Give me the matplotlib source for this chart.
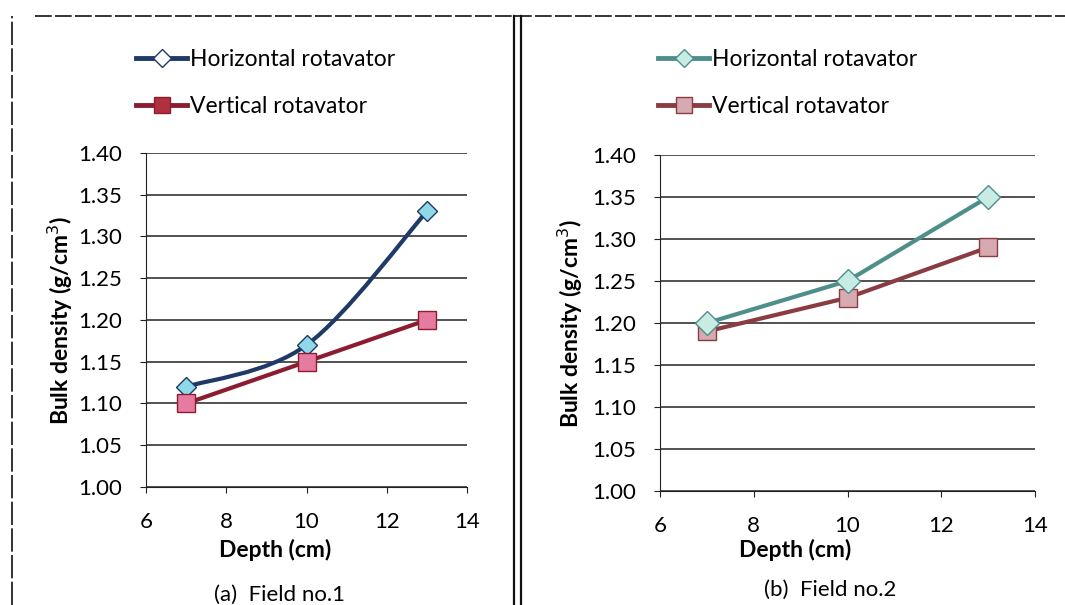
import matplotlib.pyplot as plt
from matplotlib.lines import Line2D
from matplotlib.path import Path
from matplotlib.patches import PathPatch
import numpy as np

depth = [7, 10, 13]

# Field no.1
field1_horizontal = [1.12, 1.17, 1.33]
field1_vertical = [1.10, 1.15, 1.20]

# Field no.2
field2_horizontal = [1.20, 1.25, 1.35]
field2_vertical = [1.19, 1.23, 1.29]

x_ticks = [6, 8, 10, 12, 14]
y_ticks = [1.00, 1.05, 1.10, 1.15, 1.20, 1.25, 1.30, 1.35, 1.40]

plt.rcParams["font.family"] = ["Lato", "DejaVu Sans"]


def smooth_path(xs, ys, tension=1 / 6):
    # Bezier path through the points, Catmull-Rom style
    pts = np.column_stack([xs, ys]).astype(float)
    verts = [pts[0]]
    codes = [Path.MOVETO]
    n = len(pts)
    for i in range(n - 1):
        p0 = pts[i - 1] if i > 0 else pts[i]
        p1 = pts[i]
        p2 = pts[i + 1]
        p3 = pts[i + 2] if i + 2 < n else pts[i + 1]
        c1 = p1 + (p2 - p0) * tension
        c2 = p2 - (p3 - p1) * tension
        verts += [c1, c2, p2]
        codes += [Path.CURVE4] * 3
    return Path(verts, codes)


def style_axes(ax, label_x):
    ax.set_xlim(6, 14)
    ax.set_ylim(1.0, 1.4)
    ax.set_xticks(x_ticks)
    ax.set_yticks(y_ticks)
    ax.set_yticklabels([f"{v:.2f}" for v in y_ticks])
    ax.grid(axis="y", color="#222222", linewidth=1.1)
    ax.set_axisbelow(True)
    for side in ["top", "right"]:
        ax.spines[side].set_visible(False)
    ax.spines["left"].set_color("#222222")
    ax.spines["bottom"].set_color("#222222")
    ax.tick_params(axis="both", direction="out", length=4, color="#222222",
                   labelsize=16)
    ax.tick_params(axis="x", pad=14)
    ax.tick_params(axis="y", pad=13)
    ax.set_ylabel("Bulk density (g/cm$^3$)", fontsize=16.5, fontweight="bold")
    ax.yaxis.set_label_coords(label_x, 0.5)


fig = plt.figure(figsize=(10.65, 6.05), dpi=100)

# left panel
ax1 = fig.add_axes([146 / 1065, 1 - 487 / 605, 321 / 1065, 334 / 605])
style_axes(ax1, -71 / 321)
h_line1, h_fill1 = "#1f3a66", "#8fd8e8"
v_line1, v_fill1 = "#8c1c30", "#e67aa0"
ax1.add_patch(PathPatch(smooth_path(depth, field1_horizontal), facecolor="none",
                        edgecolor=h_line1, linewidth=3, zorder=3))
ax1.plot(depth, field1_horizontal, linestyle="none", marker="D", markersize=10,
         markerfacecolor=h_fill1, markeredgecolor=h_line1, zorder=4)
ax1.plot(depth, field1_vertical, color=v_line1, linewidth=3, marker="s",
         markersize=13, markerfacecolor=v_fill1, markeredgecolor=v_line1, zorder=4)

# right panel
ax2 = fig.add_axes([660 / 1065, 1 - 491 / 605, 375 / 1065, 336 / 605])
style_axes(ax2, -75 / 375)
h_line2, h_fill2 = "#4e8f8c", "#c8ece4"
v_line2, v_fill2 = "#8a3c42", "#d6aab0"
ax2.plot(depth, field2_horizontal, color=h_line2, linewidth=3, marker="D",
         markersize=12, markerfacecolor=h_fill2, markeredgecolor=h_line2, zorder=4)
ax2.plot(depth, field2_vertical, color=v_line2, linewidth=3, marker="s",
         markersize=13, markerfacecolor=v_fill2, markeredgecolor=v_line2, zorder=3)

# legends
leg_h1 = Line2D([], [], color=h_line1, linewidth=3.5, marker="D", markersize=9,
                markerfacecolor="white", markeredgecolor=h_line1)
leg_v1 = Line2D([], [], color=v_line1, linewidth=3.5, marker="s", markersize=11,
                markerfacecolor="#b03040", markeredgecolor=v_line1)
leg_h2 = Line2D([], [], color=h_line2, linewidth=3.5, marker="D", markersize=9,
                markerfacecolor=h_fill2, markeredgecolor=h_line2)
leg_v2 = Line2D([], [], color=v_line2, linewidth=3.5, marker="s", markersize=11,
                markerfacecolor=v_fill2, markeredgecolor=v_line2)
labels = ["Horizontal rotavator", "Vertical rotavator"]
for handles, x0 in [((leg_h1, leg_v1), 125), ((leg_h2, leg_v2), 647)]:
    fig.legend(handles, labels, loc="upper left",
               bbox_to_anchor=(x0 / 1065, 1 - 38 / 605), frameon=False,
               fontsize=16.5, handlelength=2.2, handletextpad=0.15,
               labelspacing=1.1, borderpad=0)

# x labels and captions
fig.text(275 / 1065, 1 - 550 / 605, "Depth (cm)", ha="center", va="center",
         fontsize=16.5, fontweight="bold")
fig.text(795 / 1065, 1 - 550 / 605, "Depth (cm)", ha="center", va="center",
         fontsize=16.5, fontweight="bold")
fig.text(280 / 1065, 1 - 595 / 605, "(a)  Field no.1", ha="center", va="center",
         fontsize=16)
fig.text(830 / 1065, 1 - 590 / 605, "(b)  Field no.2", ha="center", va="center",
         fontsize=16)

# page frame lines
frame = dict(color="#111111", transform=fig.transFigure)
fig.add_artist(Line2D([35 / 1065, 1], [1 - 16 / 605] * 2, linewidth=1.2,
                      linestyle=(0, (10, 2)), **frame))
fig.add_artist(Line2D([12 / 1065] * 2, [0, 1 - 16 / 605], linewidth=1.2,
                      linestyle=(0, (14, 2)), **frame))
fig.add_artist(Line2D([514 / 1065] * 2, [0, 1 - 16 / 605], linewidth=1.6, **frame))
fig.add_artist(Line2D([521 / 1065] * 2, [0, 1 - 16 / 605], linewidth=1.6, **frame))

fig.savefig("out.png", dpi=100)
